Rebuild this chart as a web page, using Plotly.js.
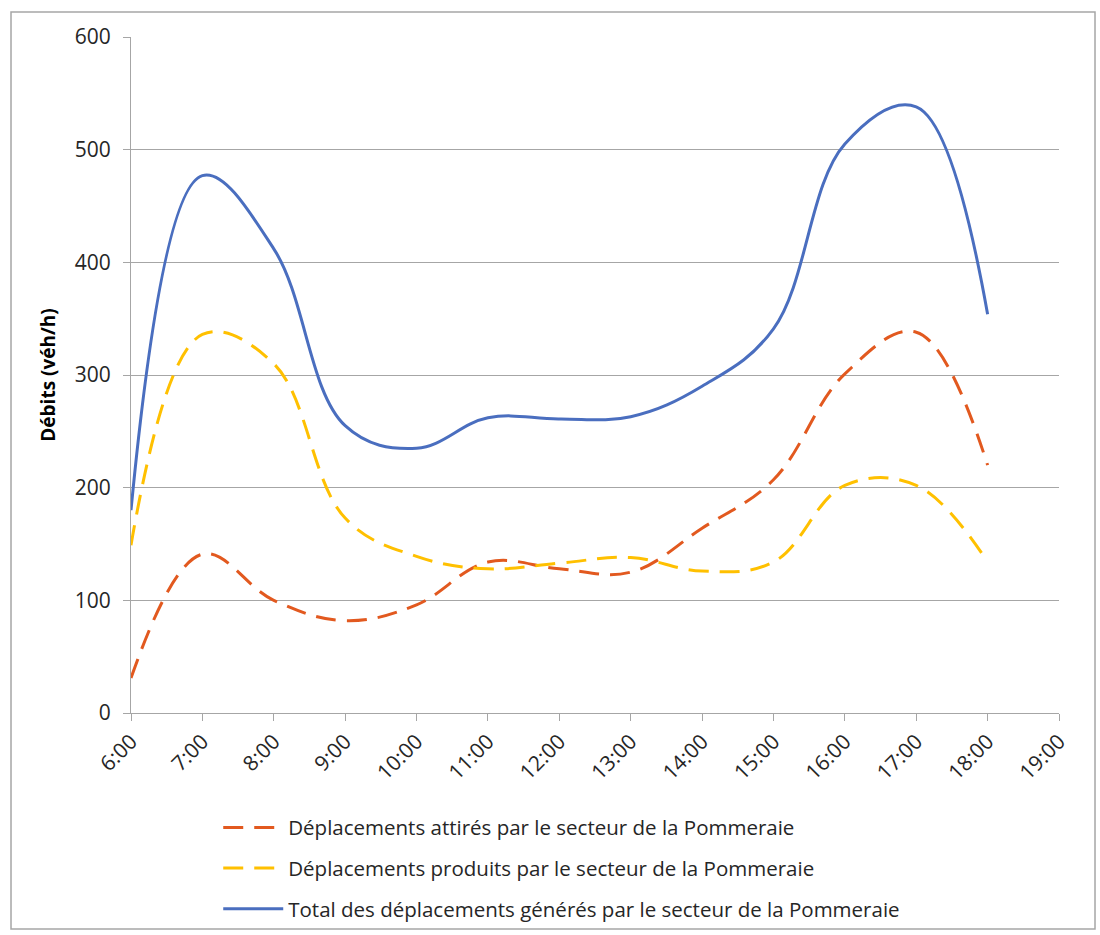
<!DOCTYPE html>
<html><head><meta charset="utf-8">
<script src="https://cdn.plot.ly/plotly-3.0.1.min.js"></script>
<style>html,body{margin:0;padding:0;background:#fff}#chart{width:1100px;height:935px}</style>
</head><body><div id="chart"></div>
<script>
const hours = ['6:00','7:00','8:00','9:00','10:00','11:00','12:00','13:00','14:00','15:00','16:00','17:00','18:00'];
const axisLabels = ['6:00','7:00','8:00','9:00','10:00','11:00','12:00','13:00','14:00','15:00','16:00','17:00','18:00','19:00'];
const attires = [31,141,100,82,96,134,128,125,164,207,301,338,220];
const produits = [149,336,310,173,139,128,133,138,126,134,202,202,134];
const total = [180,477,412,255,235,262,261,263,290,341,505,538,354];
const names = [
  'Déplacements attirés par le secteur de la Pommeraie',
  'Déplacements produits par le secteur de la Pommeraie',
  'Total des déplacements générés par le secteur de la Pommeraie'
];
const yTicks = [0,100,200,300,400,500,600];

const FONT = 'Open Sans, Noto Sans, sans-serif';
function tr(y, name, color, dash, g){
  return {x: hours, y: y, name: name, type:'scatter', mode:'lines', legendgroup:g,
    line:{color:color, width:3, shape:'spline', smoothing:1.1, dash:dash}, hoverinfo:'x+y'};
}
const data = [
  tr(attires, names[0], '#E2591F', '20px,11px', 'a'),
  tr(produits, names[1], '#FFC000', '20px,11px', 'b'),
  tr(total, names[2], '#4A6EBF', 'solid', 'c')
];
const layout = {
  width:1100, height:935,
  margin:{l:131, r:41, t:37, b:222, autoexpand:false},
  paper_bgcolor:'#fff', plot_bgcolor:'#fff',
  font:{family:FONT, color:'#262626', size:20},
  showlegend:true,
  legend:{x:0.094, y:-0.14, xanchor:'left', yanchor:'top', traceorder:'grouped', tracegroupgap:11,
    itemwidth:60, font:{size:20.5, color:'#262626', family:FONT}, bgcolor:'rgba(0,0,0,0)'},
  xaxis:{type:'category', categoryorder:'array', categoryarray:axisLabels, range:[0,13],
    tickmode:'array', tickvals:axisLabels, ticktext:axisLabels,
    tickangle:-45, ticks:'outside', ticklen:7, tickcolor:'#A6A6A6',
    showline:true, linecolor:'#A6A6A6', linewidth:1, showgrid:false, zeroline:false,
    tickfont:{size:21, family:FONT, color:'#262626'}},
  yaxis:{range:[0,600], tickmode:'array', tickvals:yTicks, ticks:'outside', ticklen:7, tickcolor:'#A6A6A6',
    ticklabelstandoff:8,
    showline:true, linecolor:'#A6A6A6', linewidth:1, showgrid:true, gridcolor:'#A6A6A6', gridwidth:1,
    zeroline:false, tickfont:{size:21, family:FONT, color:'#262626'},
    title:{text:'<b>Débits (véh/h)</b>', font:{size:19, family:FONT, color:'#000'}, standoff:14}},
  shapes:[{type:'rect', xref:'paper', yref:'paper', x0:-0.1293, x1:1.0388, y0:-0.3195, y1:1.037,
    line:{color:'#A6A6A6', width:1.5}, fillcolor:'rgba(0,0,0,0)', layer:'below'}]
};
Plotly.newPlot('chart', data, layout, {displayModeBar:false, responsive:false});
</script></body></html>
